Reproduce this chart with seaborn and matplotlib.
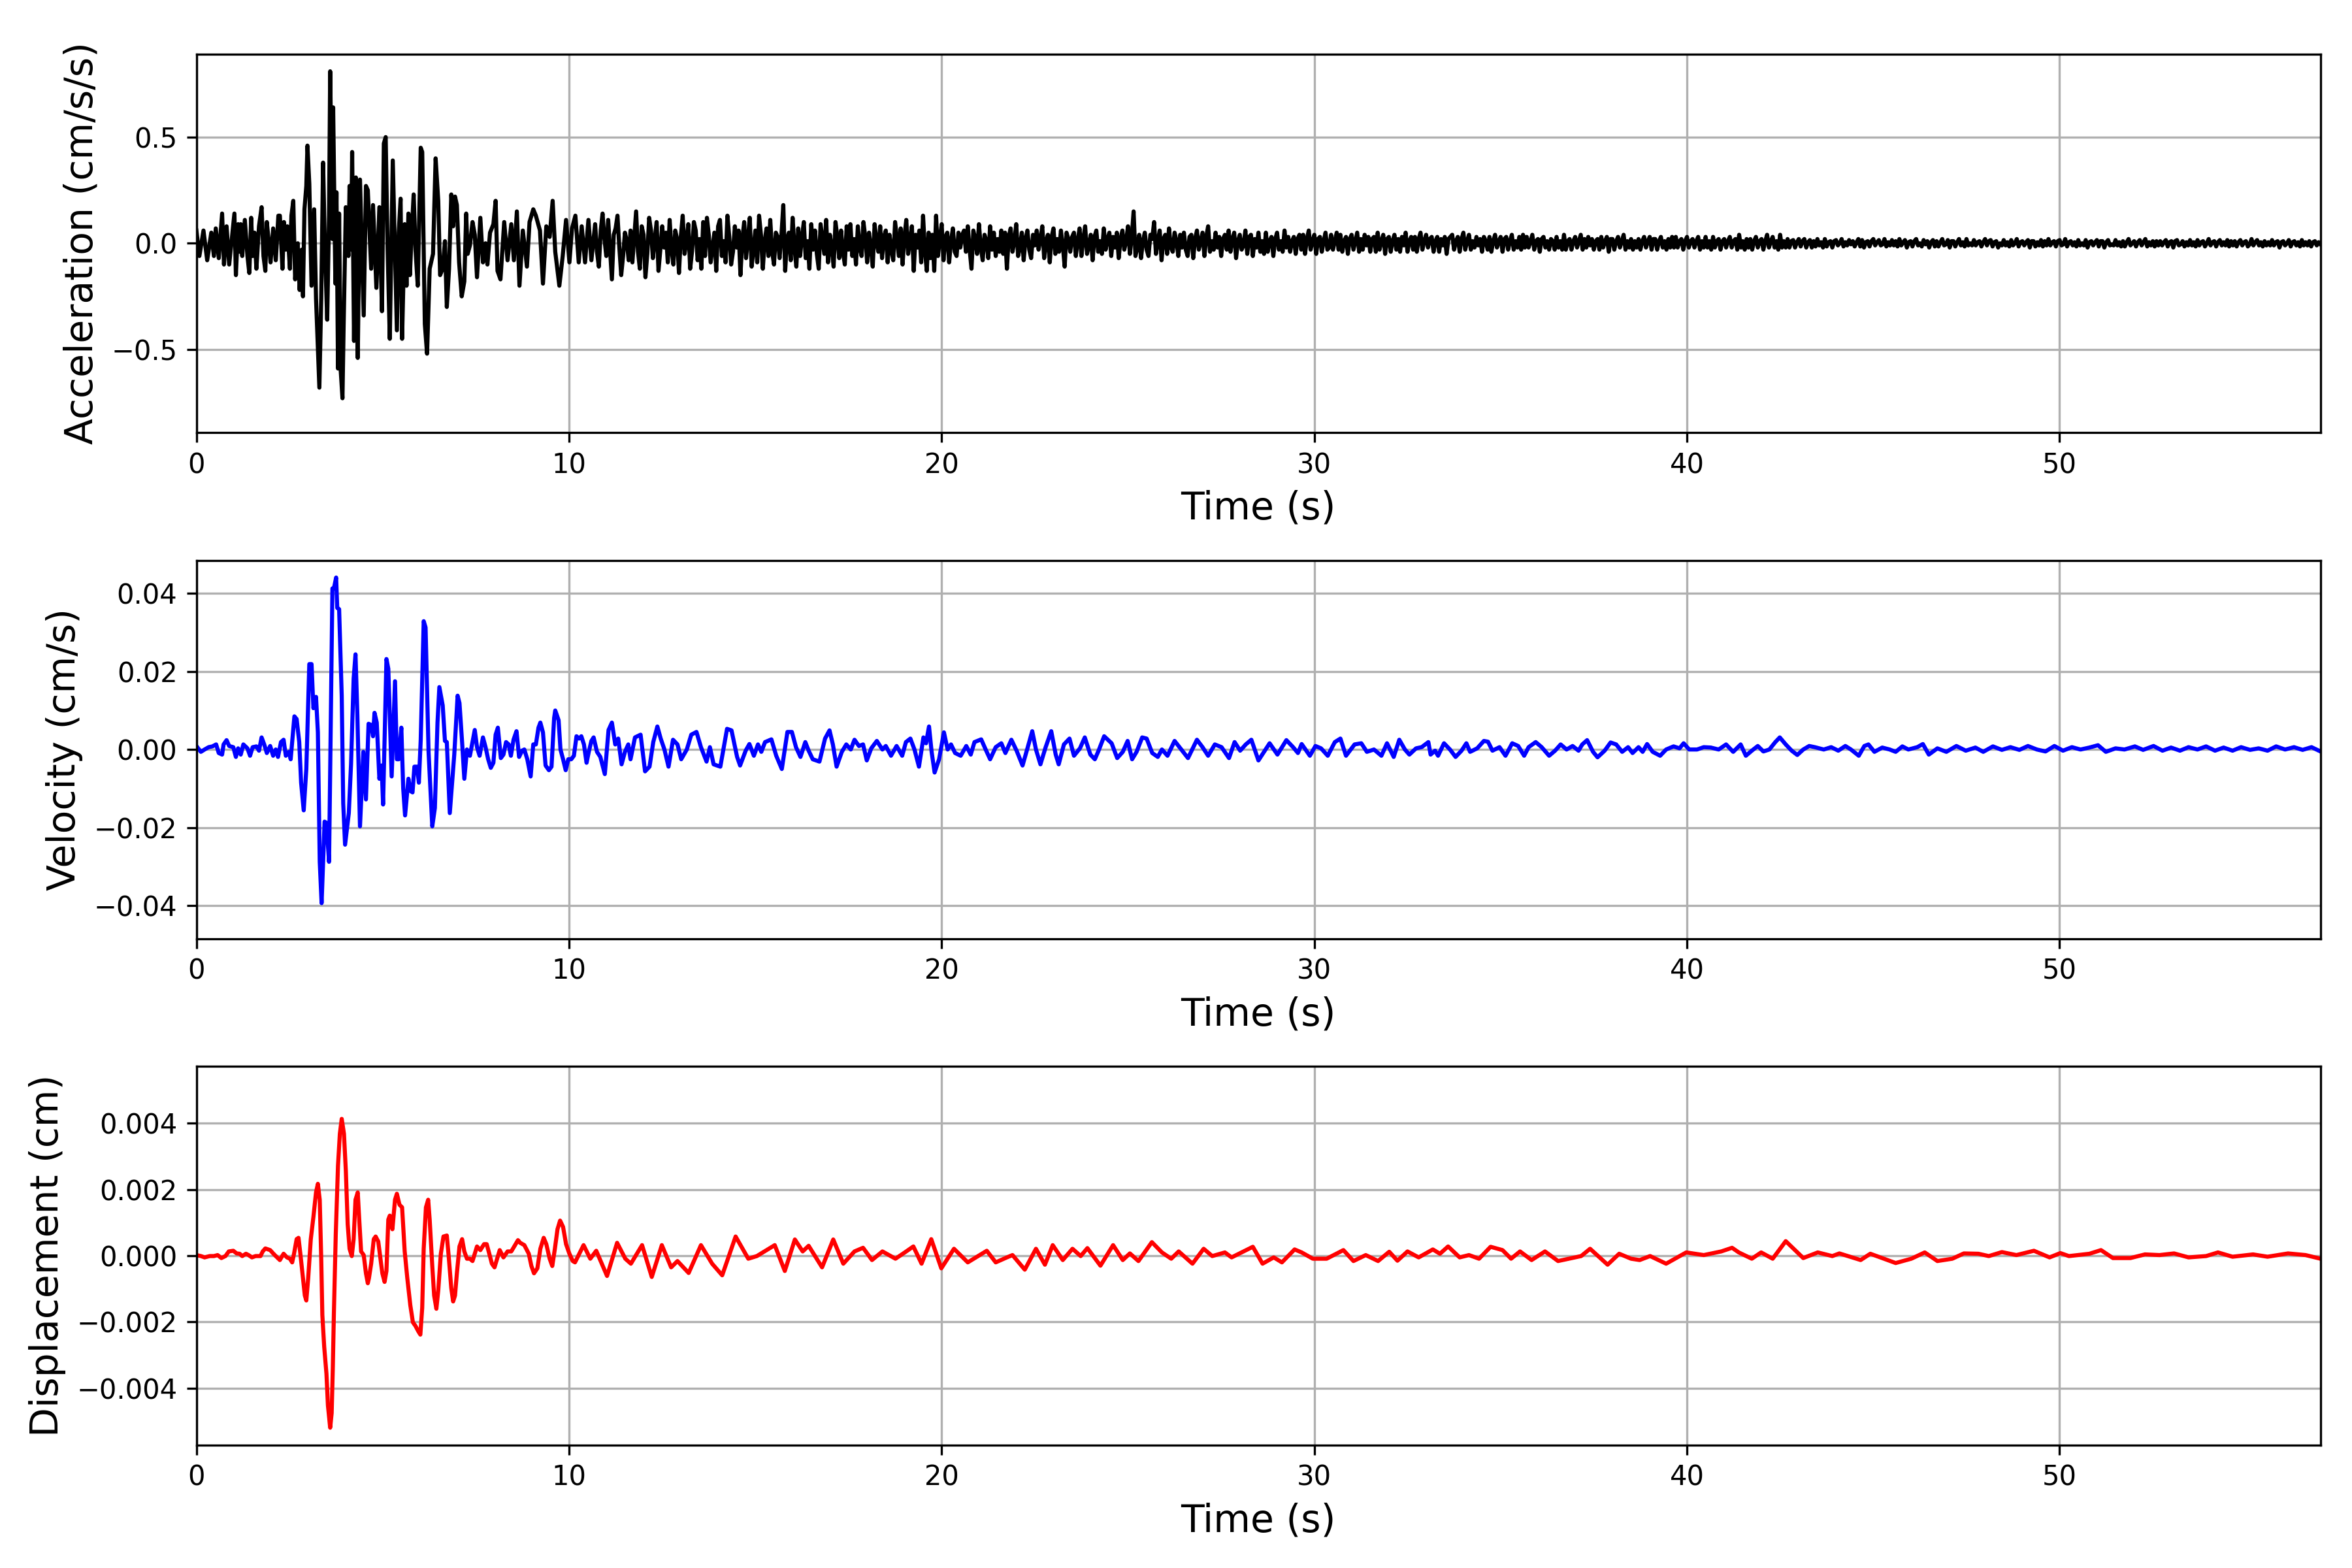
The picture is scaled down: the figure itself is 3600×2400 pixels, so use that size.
import numpy as np
import pandas as pd
import seaborn as sns
import matplotlib
matplotlib.use("Agg")
import matplotlib.pyplot as plt

# ---- acceleration (cm/s/s) ----
# strong-motion part, read as (time s, value)
acc_onset = [
    (0.00, 0.06), (0.08, -0.06), (0.19, 0.06), (0.29, -0.08), (0.40, 0.05), (0.47, -0.06), (0.52, 0.07),
    (0.60, -0.07), (0.69, 0.14), (0.74, -0.10), (0.81, 0.08), (0.88, -0.10), (0.99, 0.09), (1.02, 0.14),
    (1.06, -0.15), (1.12, 0.09), (1.16, -0.04), (1.19, 0.09), (1.23, -0.06), (1.30, 0.11), (1.37, -0.06),
    (1.42, -0.14), (1.47, 0.12), (1.51, -0.06), (1.56, 0.05), (1.61, -0.12), (1.68, 0.08), (1.75, 0.17),
    (1.80, -0.06), (1.85, -0.13), (1.89, 0.10), (1.94, 0.01), (1.99, -0.09), (2.06, 0.07), (2.13, -0.08),
    (2.20, 0.13), (2.24, 0.13), (2.31, -0.12), (2.35, 0.10), (2.40, -0.03), (2.44, 0.08), (2.51, -0.12),
    (2.55, 0.13), (2.60, 0.20), (2.65, -0.17), (2.72, 0.00), (2.77, -0.22), (2.83, -0.03), (2.86, -0.25),
    (2.90, 0.16), (2.95, 0.27), (2.98, 0.46), (3.03, 0.28), (3.09, -0.20), (3.16, 0.16), (3.21, -0.26),
    (3.30, -0.68), (3.35, -0.26), (3.40, 0.38), (3.45, -0.03), (3.51, -0.36), (3.56, 0.13), (3.59, 0.81),
    (3.65, 0.02), (3.67, 0.64), (3.73, -0.19), (3.76, 0.24), (3.80, -0.59), (3.83, 0.14), (3.87, -0.59),
    (3.92, -0.73), (3.95, -0.40), (4.01, 0.17), (4.08, -0.06), (4.11, 0.27), (4.15, -0.03), (4.18, 0.43),
    (4.23, -0.46), (4.28, 0.31), (4.33, -0.54), (4.39, 0.30), (4.49, -0.34), (4.55, 0.27), (4.60, 0.25),
    (4.69, -0.12), (4.74, 0.18), (4.83, -0.21), (4.91, 0.17), (4.98, -0.32), (5.03, 0.47), (5.08, 0.50),
    (5.13, -0.02), (5.19, -0.45), (5.27, 0.39), (5.38, -0.41), (5.43, 0.05), (5.48, 0.21), (5.52, -0.45),
    (5.59, 0.09), (5.64, -0.20), (5.69, 0.14), (5.73, -0.15), (5.78, 0.06), (5.83, 0.23), (5.88, -0.03),
    (5.94, -0.20), (6.02, 0.45), (6.06, 0.43), (6.13, -0.38), (6.19, -0.52), (6.26, -0.12), (6.35, -0.05),
    (6.42, 0.40), (6.49, 0.20), (6.54, -0.15), (6.61, -0.12), (6.67, 0.01), (6.72, -0.30), (6.78, -0.12),
    (6.84, 0.23), (6.89, 0.08), (6.94, 0.22), (6.99, 0.18), (7.05, -0.09), (7.12, -0.25), (7.19, -0.18),
    (7.24, 0.14), (7.28, -0.05), (7.34, -0.01), (7.41, 0.10), (7.47, 0.04), (7.53, -0.16), (7.62, 0.12),
    (7.69, -0.09), (7.76, 0.00), (7.81, -0.10), (7.88, 0.05), (7.97, 0.09), (8.03, 0.20), (8.08, -0.13),
    (8.16, -0.17), (8.26, 0.10), (8.35, -0.08), (8.45, 0.09), (8.52, -0.08), (8.60, 0.15), (8.67, -0.20),
    (8.76, 0.06), (8.87, -0.11), (8.94, 0.10), (9.04, 0.16), (9.11, 0.13), (9.22, 0.06), (9.30, -0.19),
    (9.39, 0.08), (9.48, 0.03), (9.56, 0.20), (9.63, -0.04), (9.74, -0.20), (9.83, -0.06), (9.92, 0.11),
    (10.01, -0.09), (10.08, 0.07), (10.17, 0.13), (10.26, -0.09), (10.34, 0.08), (10.43, -0.09),
    (10.52, 0.11), (10.60, -0.08),
]
# coda in 1e-3 cm/s/s, every 0.05 s from 10.7 s (one row per second)
acc_coda_start = 10.7
acc_coda_dt = 0.05
acc_coda_milli = [
    90, -40, -110, 60, 140, 20, -60, 110, -30, -170, 40, 70, 130, -20, -150, -60, 50, 10, -80, 60,
    -90, 30, 150, -40, -120, 80, 40, -160, -50, 120, 60, -70, 20, 100, -130, -30, 80, -20, 50, -90,
    110, -30, -100, 60, 20, -140, 30, 130, -50, 10, 90, -120, -40, 100, 60, -80, 20, -120, 100, -60,
    120, 40, -90, -20, 50, -130, 80, 110, -60, 10, -90, 130, 30, -100, -40, 80, -20, 60, -150, 20,
    100, -70, 20, 120, -110, -30, 60, -90, 130, 40, -120, 10, 70, -60, 110, -40, -100, 50, 30, -70,
    40, 180, -130, 20, 50, -80, 120, -20, -110, 70, -60, 30, 100, -70, 10, -120, 90, -30, 60, -50,
    -120, 90, 20, -50, 110, -90, 40, -20, -110, 100, 30, -70, 60, -40, -100, 80, -30, 90, -60, 20,
    -100, 80, -20, -60, 100, 30, -90, 50, -20, -110, 90, 10, -40, 80, -70, 30, 60, -90, 40, -30,
    -80, 100, 20, -60, 70, -100, 30, 110, -50, 10, 80, -130, 40, -20, 60, -90, 130, -30, -130, 50,
    -70, 40, -130, 130, -60, 20, 90, -80, 30, 50, -90, 10, 70, -40, -60, 50, -20, 40, 60, -40,
    80, -30, -120, 60, 20, -50, 90, -20, -80, 40, 10, -70, 80, -30, 50, -60, 20, -40, 60, -50,
    50, -120, 30, 70, -40, 10, 90, -60, -20, 50, -80, 20, 60, -30, -70, 40, -10, 60, -30, 20,
    80, -70, 10, 40, -90, 30, 70, -50, 20, -40, 60, -10, -110, 50, 20, -40, 30, 50, -60, 10,
    70, -60, 20, 80, -50, -10, 40, -80, 30, 60, -40, 10, -50, 70, -30, 20, 50, -60, 30, -20,
    50, -70, 20, 60, -30, 10, 80, -50, 30, 150, -60, -20, 40, -70, 10, 50, -30, -60, 40, 20,
    100, -50, 10, 60, -80, 20, 40, -50, 70, -20, -40, 50, 10, -60, 40, -20, 50, -30, -60, 30,
    40, -70, 20, 60, -30, 10, 50, -60, 30, 80, -40, 10, -30, 50, -20, 30, -60, 20, 40, -30,
    60, -40, 20, 50, -70, 10, 40, -30, -10, 60, -50, 30, 40, -60, 20, -20, 50, -40, 10, -50,
    50, -40, 10, 30, -60, 20, 50, -30, 10, -40, 60, -20, 30, -40, 10, 30, -50, 20, 40, -30,
    40, -50, 20, 60, -30, 10, 40, -50, 20, 30, -40, 10, 50, -30, -20, 40, -30, 10, 50, -30,
    40, -40, 10, 30, -50, 20, 40, -30, 10, 50, -40, 20, -30, 40, -10, 30, -40, 20, 30, -40,
    50, -30, 10, 40, -50, 20, 30, -40, 10, 40, -30, 20, -40, 30, -10, 50, -40, 10, 30, -30,
    30, -40, 20, 50, -30, 10, 40, -20, 20, 30, -40, 10, 30, -40, 20, -10, 30, -50, 20, 30,
    40, -30, 10, 30, -40, 20, 50, -30, 10, 40, -30, 10, -20, 30, -10, 20, -40, 30, 10, -30,
    30, -40, 10, 40, -20, 10, 30, -40, 20, 30, -30, 10, 40, -30, 10, -20, 30, -30, 40, -20,
    30, -20, 10, 40, -30, 10, 20, -40, 20, 30, -20, 10, -30, 20, 10, -30, 30, -20, 10, -30,
    40, -30, 10, 20, -30, 10, 30, -20, 10, 40, -30, 20, -20, 30, -10, 20, -30, 10, 20, -30,
    30, -20, 10, 30, -40, 20, 20, -30, 10, 30, -20, 10, 40, -30, 10, -20, 20, -30, 10, -20,
    20, -30, 10, 30, -20, 10, 30, -30, 20, 20, -30, 10, 30, -20, 10, -30, 20, -20, 30, -20,
    30, -20, 10, 20, -30, 10, 30, -20, 10, 20, -20, 10, 30, -30, 10, -20, 30, -20, 10, -30,
    30, -20, 10, 20, -30, 10, 20, -20, 10, 30, -20, 10, 20, -30, 40, -20, 10, -30, 20, -20,
    20, -30, 10, 30, -20, 10, 20, -30, 10, 40, -20, 10, 30, -20, 10, -30, 40, -20, 10, -20,
    20, -20, 10, 15, -20, 5, 20, -15, 10, 20, -20, 5, 15, -20, 10, -15, 20, -10, 5, -20,
    20, -15, 5, 10, -20, 10, 15, -10, 0, 20, -15, 5, -10, 15, -5, 10, -15, 5, 20, -15,
    15, -20, 5, 10, -15, 10, 20, -10, 5, 15, -10, -5, 20, -15, 5, -10, 15, -10, 10, -15,
    20, -10, 5, 15, -20, 5, 10, -15, 10, 20, -10, 0, -15, 15, -5, 10, -20, 5, 15, -15,
    10, -15, 5, 20, -10, -5, 15, -20, 10, 10, -15, 5, 20, -10, 5, -15, 20, -10, 0, -10,
    15, -10, 5, 10, -15, 5, 20, -10, 10, 15, -15, 5, 10, -20, 0, -10, 15, -10, 5, -15,
    15, -10, 0, 20, -15, 5, 10, -10, 5, 15, -20, 10, 10, -15, 5, -10, 15, -15, 10, -10,
    20, -10, 5, 10, -15, 10, 15, -10, -5, 20, -15, 5, 10, -10, 5, -15, 15, -10, 0, -10,
    15, -20, 5, 10, -10, 5, 15, -15, 10, 10, -20, 5, 15, -10, -5, -10, 15, -10, 5, -15,
    10, -15, 5, 20, -10, 0, 10, -15, 5, 15, -10, 5, 20, -15, 5, -10, 10, -15, 10, -10,
    10, -10, 5, 15, -15, 5, 10, -20, 10, 15, -10, -5, 10, -15, 5, -10, 15, -10, 5, -15,
    15, -10, 5, 10, -15, 0, 20, -10, 5, 10, -15, 5, 15, -10, 5, -10, 15, -15, 10, -10,
    10, -15, 5, 15, -10, 5, 10, -15, -5, 20, -10, 5, 15, -10, 5, -15, 10, -10, 5, -10,
    15, -10, 5, 10, -20, 5, 10, -10, 0, 15, -15, 5, 10, -10, 5, -15, 15, -10, 5, -10,
    10, -15, 5, 10, -10, 5, -5,
]

# ---- velocity, in 1e-3 cm/s ----
vel_pts = [
    (0.00, 0.9), (0.12, -0.6), (0.22, 0.0), (0.33, 0.6), (0.43, 0.8), (0.53, 1.3), (0.60, -0.9), (0.69, -1.3),
    (0.73, 1.3), (0.81, 2.4), (0.88, 0.9), (0.99, 0.6), (1.06, -1.9), (1.12, 0.3), (1.19, -1.3), (1.26, 1.3),
    (1.37, 0.3), (1.44, -1.6), (1.51, 0.6), (1.61, 0.8), (1.68, -0.3), (1.75, 3.1), (1.82, 1.3), (1.89, -0.9),
    (1.98, 0.9), (2.06, -1.6), (2.13, 0.0), (2.19, -1.9), (2.27, 1.9), (2.34, 2.5), (2.40, -1.6), (2.48, -0.6),
    (2.53, -2.5), (2.63, 8.5), (2.69, 7.8), (2.76, 1.9), (2.81, -8.5), (2.88, -15.6), (2.95, -5.0), (3.03, 21.9),
    (3.09, 21.9), (3.14, 10.6), (3.21, 13.5), (3.26, 4.4), (3.31, -28.8), (3.36, -39.4), (3.44, -18.5),
    (3.49, -18.8), (3.56, -28.8), (3.65, 41.3), (3.69, 41.3), (3.75, 44.1), (3.78, 36.3), (3.83, 36.0),
    (3.90, 13.8), (3.94, -13.8), (3.99, -24.4), (4.09, -16.3), (4.15, -3.8), (4.22, 18.2), (4.27, 24.4),
    (4.32, 8.8), (4.39, -19.7), (4.48, -0.6), (4.55, -12.8), (4.62, 6.6), (4.69, 6.3), (4.74, 3.4), (4.78, 9.4),
    (4.84, 6.9), (4.91, -7.5), (4.97, -4.1), (5.01, -14.1), (5.10, 23.2), (5.15, 20.7), (5.24, -6.9),
    (5.33, 17.5), (5.38, -2.5), (5.43, -2.5), (5.50, 5.6), (5.55, -10.0), (5.60, -16.9), (5.69, -7.5),
    (5.74, -10.6), (5.80, -11.0), (5.85, -4.4), (5.92, -4.4), (5.97, -8.5), (6.02, 2.5), (6.10, 32.9),
    (6.15, 31.3), (6.23, -0.6), (6.33, -19.7), (6.40, -15.0), (6.47, 6.9), (6.52, 16.0), (6.61, 11.3),
    (6.67, 2.2), (6.72, 1.9), (6.80, -16.3), (6.85, -10.0), (6.92, -1.3), (7.01, 13.8), (7.06, 11.9),
    (7.13, 1.9), (7.19, -7.5), (7.26, 0.0), (7.34, -1.6), (7.47, 5.0), (7.53, 0.6), (7.60, -1.6), (7.69, 3.1),
    (7.76, 0.6), (7.83, -2.5), (7.90, -4.7), (7.97, -3.4), (8.03, 3.8), (8.09, 5.6), (8.17, -2.2), (8.24, -1.3),
    (8.31, 1.9), (8.38, 1.3), (8.44, -1.6), (8.51, 2.5), (8.59, 4.7), (8.66, -1.9), (8.74, -0.3), (8.80, 0.0),
    (8.88, -2.5), (8.97, -6.9), (9.04, 1.3), (9.11, 1.3), (9.18, 5.6), (9.23, 6.9), (9.30, 4.4), (9.37, -4.1),
    (9.46, -5.3), (9.53, -4.4), (9.60, 8.1), (9.63, 10.0), (9.72, 7.5), (9.77, 0.0), (9.84, -2.5),
    (9.91, -5.3), (9.98, -2.5), (10.06, -2.5), (10.13, -1.6), (10.20, 3.4), (10.27, 2.8), (10.33, 3.4),
    (10.40, 1.3), (10.47, -3.4), (10.53, -0.6), (10.60, 2.2),
    (10.66, 3.1), (10.75, -0.6), (10.84, -1.9), (10.96, -6.3), (11.06, 5.0), (11.15, 6.9), (11.24, 1.3),
    (11.32, 2.8), (11.41, -3.8), (11.50, -0.6), (11.59, 1.3), (11.65, -2.5), (11.77, 3.1), (11.92, 3.8),
    (12.04, -5.6), (12.16, -4.4), (12.26, 1.9), (12.37, 5.9), (12.46, 2.8), (12.56, 0.0), (12.67, -4.4),
    (12.79, 2.5), (12.91, 1.3), (13.01, -2.5), (13.16, 0.0), (13.28, 3.8), (13.42, 4.5), (13.54, 0.6),
    (13.69, -3.1), (13.78, 0.6), (13.88, -3.8), (14.06, -4.4), (14.24, 5.3), (14.36, 4.9), (14.51, -1.9),
    (14.59, -4.1), (14.74, -0.3), (14.84, 1.4), (14.96, -1.6), (15.07, 1.3), (15.16, -0.6), (15.26, 1.9),
    (15.43, 2.6), (15.56, -1.6), (15.71, -5.0), (15.86, 4.5), (15.98, 4.5), (16.09, 0.6), (16.21, -1.9),
    (16.34, 1.9), (16.43, -0.3), (16.54, -2.5), (16.72, -3.1), (16.87, 2.8), (16.99, 4.9), (17.08, 1.3),
    (17.18, -4.4), (17.32, -0.6), (17.44, 1.3), (17.56, 0.0), (17.66, 2.5), (17.78, 0.9), (17.89, 1.3),
    (17.99, -2.8), (18.11, 0.3), (18.26, 2.2), (18.41, 0.0), (18.50, 0.9), (18.64, -1.6), (18.79, 0.9),
    (18.94, -1.6), (19.04, 1.9), (19.16, 2.8), (19.27, 0.0), (19.39, -4.4), (19.51, 3.1), (19.58, 1.6),
    (19.66, 5.9), (19.73, -0.6), (19.81, -5.9), (19.93, -2.5), (20.06, 4.4), (20.16, 0.0), (20.25, 1.3),
    (20.36, -0.9), (20.51, -1.6), (20.66, 0.9), (20.78, -1.3), (20.88, 1.9), (21.06, 2.6), (21.18, 0.0),
    (21.30, -2.5), (21.45, 0.6), (21.60, 1.6), (21.71, -0.9), (21.87, 2.5), (22.01, -0.3), (22.17, -4.1),
    (22.31, 0.6), (22.43, 4.7), (22.53, 0.0), (22.65, -3.8), (22.79, 0.6), (22.94, 4.7), (23.06, -1.3),
    (23.14, -3.8), (23.28, 1.3), (23.43, 2.8), (23.55, -1.6), (23.71, 0.3), (23.84, 3.1), (23.99, -1.3),
    (24.11, -2.5), (24.21, -0.3), (24.36, 3.4), (24.56, 1.6), (24.71, -2.2), (24.86, -0.6), (24.99, 2.2),
    (25.11, -2.5), (25.23, -0.6), (25.38, 3.1), (25.50, 2.8), (25.65, -0.9), (25.80, -1.9), (25.91, 0.0),
    (26.06, -1.6), (26.25, 2.2), (26.43, 0.0), (26.61, -2.2), (26.85, 2.5), (27.00, 0.6), (27.15, -1.6),
    (27.33, 1.3), (27.51, 0.6), (27.71, -2.2), (27.86, 1.9), (28.01, -0.3), (28.16, 1.3), (28.31, 2.5),
    (28.50, -2.8), (28.65, -0.6), (28.80, 1.6), (29.01, -1.3), (29.25, 2.4), (29.43, 0.6), (29.56, -0.9),
    (29.66, 1.4), (29.88, -1.6), (30.03, 0.9), (30.18, 0.3), (30.36, -1.6), (30.55, 1.9), (30.70, 2.8),
    (30.85, -1.6), (31.08, 1.3), (31.26, 1.6), (31.41, -0.6), (31.60, 0.0), (31.80, -1.6), (31.95, 1.6),
    (32.13, -1.9), (32.28, 2.5), (32.43, 0.0), (32.55, -1.3), (32.73, 0.3), (32.88, 0.6), (33.06, 1.9),
    (33.12, -1.3), (33.24, -0.3), (33.32, -1.6), (33.48, 1.6), (33.64, 0.0), (33.79, -1.9), (33.95, -0.3),
    (34.08, 1.6), (34.18, -0.6), (34.37, 0.3), (34.55, 2.2), (34.66, 2.0), (34.78, -0.3), (34.97, 0.6),
    (35.13, -1.6), (35.31, 1.6), (35.47, 0.9), (35.63, -1.6), (35.75, 0.6), (35.94, 1.9), (36.10, 0.6),
    (36.30, -1.6), (36.46, -0.3), (36.61, 1.3), (36.77, 0.0), (36.93, 0.9), (37.09, -0.3), (37.19, 1.3),
    (37.32, 2.4), (37.48, -0.6), (37.60, -2.0), (37.79, -0.3), (37.95, 1.8), (38.10, 1.3), (38.26, -0.6),
    (38.42, 0.6), (38.54, -0.9), (38.70, 0.6), (38.81, -0.6), (38.93, 1.4), (39.08, -0.6), (39.28, -1.6),
    (39.44, 0.0), (39.64, 0.8), (39.80, 0.3), (39.91, 1.6), (40.06, 0.0), (40.27, 0.0), (40.45, 0.6),
    (40.64, 0.5), (40.85, 0.0), (41.05, 1.3), (41.24, -0.6), (41.44, 1.3), (41.58, -1.6), (41.74, -0.3),
    (41.90, 0.9), (42.05, -0.5), (42.21, 0.0), (42.37, 1.9), (42.49, 3.1), (42.65, 1.3), (42.81, -0.3),
    (42.96, -1.4), (43.12, 0.0), (43.28, 0.9), (43.43, 0.6), (43.67, 0.0), (43.87, 0.6), (44.06, -0.3),
    (44.25, 0.9), (44.40, 0.0), (44.61, -1.6), (44.76, 0.9), (44.87, 1.3), (45.03, -0.6), (45.24, 0.5),
    (45.44, 0.0), (45.60, -0.6), (45.78, 0.8), (45.94, 0.0), (46.18, 0.6), (46.33, 1.4), (46.49, -1.3),
    (46.72, 0.3), (46.96, -0.6), (47.23, 0.9), (47.48, -0.3), (47.74, 0.5), (47.95, -0.6), (48.21, 0.8),
    (48.45, -0.1), (48.68, 0.6), (48.92, -0.1), (49.15, 0.9), (49.39, 0.0), (49.62, -0.5), (49.86, 0.9),
    (50.09, -0.3), (50.33, 0.6), (50.56, 0.0), (50.80, 0.5), (51.03, 1.1), (51.24, -0.6), (51.50, 0.3),
    (51.74, 0.0), (52.02, 0.8), (52.24, -0.1), (52.52, 0.9), (52.76, -0.3), (52.99, 0.5), (53.23, -0.3),
    (53.46, 0.6), (53.70, 0.0), (53.93, 0.8), (54.17, -0.3), (54.40, 0.5), (54.64, -0.3), (54.87, 0.6),
    (55.11, -0.1), (55.34, 0.3), (55.58, -0.3), (55.81, 0.8), (56.05, 0.0), (56.29, 0.6), (56.52, -0.1),
    (56.76, 0.6), (57.00, -0.5),
]

# ---- displacement, in 1e-4 cm ----
disp_pts = [
    (0.00, 0.2), (0.12, -0.1), (0.22, -0.5), (0.36, -0.1), (0.47, -0.1), (0.57, 0.2), (0.67, -0.7),
    (0.78, -0.1), (0.87, 1.3), (0.99, 1.5), (1.08, 0.7), (1.16, 0.6), (1.23, -0.1), (1.33, 0.6), (1.40, 0.2),
    (1.49, -0.5), (1.59, -0.1), (1.72, -0.1), (1.78, 1.3), (1.85, 2.2), (1.98, 1.7), (2.06, 0.7),
    (2.13, -0.1), (2.24, -1.3), (2.34, 0.6), (2.43, -0.5), (2.51, -0.9), (2.57, -2.0), (2.62, 0.6),
    (2.69, 5.0), (2.74, 5.4), (2.79, 0.6), (2.86, -6.8), (2.91, -12.0), (2.95, -13.5), (3.00, -6.8),
    (3.07, 5.0), (3.14, 11.7), (3.21, 19.1), (3.26, 21.7), (3.31, 16.9), (3.35, -0.9), (3.38, -17.9),
    (3.43, -27.5), (3.49, -35.6), (3.53, -45.2), (3.59, -51.9), (3.63, -47.5), (3.66, -34.2), (3.69, -17.2),
    (3.74, 6.5), (3.80, 27.2), (3.85, 36.8), (3.90, 41.3), (3.96, 36.8), (4.01, 25.7), (4.06, 9.5),
    (4.11, 2.1), (4.17, -0.1), (4.22, 5.0), (4.27, 16.9), (4.33, 19.1), (4.37, 10.9), (4.42, 1.3),
    (4.49, 0.2), (4.55, -5.3), (4.60, -8.3), (4.63, -6.8), (4.69, -2.4), (4.76, 5.0), (4.81, 5.8),
    (4.88, 4.3), (4.94, -0.9), (4.99, -5.3), (5.05, -7.9), (5.10, -4.6), (5.15, 10.9), (5.19, 12.1),
    (5.26, 8.0), (5.33, 16.9), (5.38, 18.7), (5.45, 15.4), (5.52, 14.6), (5.59, 1.3), (5.66, -6.8),
    (5.74, -14.9), (5.81, -20.1), (5.88, -21.2), (5.95, -22.7), (6.01, -23.8), (6.06, -15.7), (6.10, 2.1),
    (6.16, 14.6), (6.22, 16.9), (6.26, 10.9), (6.33, -3.1), (6.38, -12.0), (6.44, -16.0), (6.49, -10.5),
    (6.56, 0.6), (6.63, 5.8), (6.72, 6.1), (6.77, -0.1), (6.84, -9.8), (6.89, -13.8), (6.94, -12.0),
    (6.99, -5.3), (7.06, 2.8), (7.13, 5.0), (7.19, 1.3), (7.26, -0.9), (7.34, -0.9), (7.41, -1.6),
    (7.47, 0.6), (7.53, 2.8), (7.62, 1.7), (7.72, 3.5), (7.79, 3.5), (7.86, 0.6), (7.93, -2.4), (8.00, -3.5),
    (8.07, -0.9), (8.14, 1.7), (8.24, -0.5), (8.35, 1.3), (8.45, 1.3), (8.53, 2.8), (8.63, 4.7), (8.69, 3.9),
    (8.80, 3.2), (8.92, 0.6), (8.99, -3.1), (9.06, -5.3), (9.15, -3.8), (9.23, 2.1), (9.32, 5.4), (9.39, 3.5),
    (9.48, -0.9), (9.55, -3.1), (9.62, 2.1), (9.69, 8.0), (9.76, 10.6), (9.84, 8.7), (9.92, 3.5),
    (10.01, 0.6), (10.10, -1.6),
    (10.16, -2.0), (10.39, 3.2), (10.57, -0.9), (10.73, 1.5), (11.02, -6.1), (11.29, 3.9), (11.51, -0.9),
    (11.66, -2.4), (11.96, 3.2), (12.22, -6.4), (12.49, 3.2), (12.74, -3.5), (12.91, -1.6), (13.21, -5.2),
    (13.54, 3.2), (13.84, -2.4), (14.11, -5.9), (14.47, 5.8), (14.81, -0.9), (15.04, -0.1), (15.52, 3.2),
    (15.79, -4.6), (16.06, 4.9), (16.27, 1.3), (16.43, 3.0), (16.79, -3.5), (17.09, 4.9), (17.36, -2.4),
    (17.66, 1.3), (17.89, 2.4), (18.13, -1.3), (18.41, 1.3), (18.76, -0.9), (19.01, 1.0), (19.24, 2.8),
    (19.46, -2.4), (19.72, 5.0), (19.99, -3.8), (20.33, 2.1), (20.70, -2.0), (21.21, 1.5), (21.45, -2.0),
    (21.75, -0.5), (21.90, 0.2), (22.23, -4.2), (22.53, 2.1), (22.77, -2.7), (22.98, 3.2), (23.25, -1.3),
    (23.51, 2.1), (23.73, -0.1), (23.91, 2.3), (24.26, -3.0), (24.60, 3.2), (24.86, -1.3), (25.05, 0.7),
    (25.28, -1.6), (25.64, 4.1), (25.91, 1.0), (26.16, -0.9), (26.36, 1.3), (26.73, -2.4), (27.03, 2.1),
    (27.26, -0.1), (27.60, 1.0), (27.78, -0.5), (28.35, 2.7), (28.61, -2.4), (28.91, -0.5), (29.13, -2.0),
    (29.47, 1.9), (29.66, 1.0), (29.96, -0.9), (30.33, -0.9), (30.78, 1.7), (31.05, -1.6), (31.38, 0.2),
    (31.71, -1.6), (32.01, 1.2), (32.23, -1.5), (32.50, 1.3), (32.80, -0.5), (33.18, 1.9),
    (33.37, 0.6), (33.59, 2.8), (33.90, -0.5), (34.15, 0.2), (34.42, -0.9), (34.73, 2.7), (35.05, 1.7),
    (35.28, -0.9), (35.52, 1.3), (35.83, -1.3), (36.19, 1.3), (36.54, -1.6), (37.16, -0.1), (37.40, 2.1),
    (37.87, -2.7), (38.18, 0.6), (38.50, -0.9), (38.73, -1.3), (39.01, -0.1), (39.44, -2.4), (39.98, 1.0),
    (40.45, 0.2), (40.92, 1.3), (41.21, 2.4), (41.39, 1.0), (41.74, -0.9), (41.99, 1.0), (42.30, -0.9),
    (42.65, 4.4), (43.12, -0.7), (43.51, 1.0), (43.90, -0.1), (44.09, 0.7), (44.66, -1.3), (44.92, 0.6),
    (45.60, -2.2), (46.02, -0.9), (46.38, 1.0), (46.72, -1.6), (47.12, -0.9), (47.43, 0.7), (47.82, 0.6),
    (48.10, -0.1), (48.45, 1.1), (48.84, 0.2), (49.31, 1.5), (49.73, -0.5), (50.02, 0.8), (50.25, -0.1),
    (50.80, 0.6), (51.11, 1.7), (51.43, -0.7), (51.90, -0.7), (52.29, 0.4), (52.68, 0.2), (53.07, 0.7),
    (53.46, -0.5), (53.93, -0.1), (54.25, 1.0), (54.64, -0.3), (55.19, 0.4), (55.58, -0.3), (56.13, 0.7),
    (56.60, 0.2), (57.00, -0.9),
]

labels = ["Acceleration (cm/s/s)", "Velocity (cm/s)", "Displacement (cm)"]
colors = ["black", "blue", "red"]

# assemble the three traces
acc_coda_t = acc_coda_start + acc_coda_dt * np.arange(len(acc_coda_milli))
acc_t = np.r_[[p[0] for p in acc_onset], acc_coda_t]
acc_v = np.r_[[p[1] for p in acc_onset], np.array(acc_coda_milli) * 1e-3]
vel_t = np.array([p[0] for p in vel_pts])
vel_v = np.array([p[1] for p in vel_pts]) * 1e-3
disp_t = np.array([p[0] for p in disp_pts])
disp_v = np.array([p[1] for p in disp_pts]) * 1e-4

traces = [(acc_t, acc_v), (vel_t, vel_v), (disp_t, disp_v)]

fig, axes = plt.subplots(3, 1, figsize=(12, 8), dpi=300)
for ax, (t, y), lab, col in zip(axes, traces, labels, colors):
    df = pd.DataFrame({"t": t, "y": y})
    sns.lineplot(data=df, x="t", y="y", ax=ax, color=col, linewidth=1.5,
                 estimator=None, sort=False)
    lim = 1.1 * np.abs(y).max()
    ax.set_ylim(-lim, lim)
    ax.set_xlim(0, t.max())
    ax.set_xlabel("Time (s)", fontsize=14)
    ax.set_ylabel(lab, fontsize=14)
    ax.tick_params(labelsize=10)
    ax.grid(True)

plt.subplots_adjust(left=0.0835, right=0.9866, top=0.9655, bottom=0.0785, hspace=0.338)
plt.savefig("out.png", dpi=300)
